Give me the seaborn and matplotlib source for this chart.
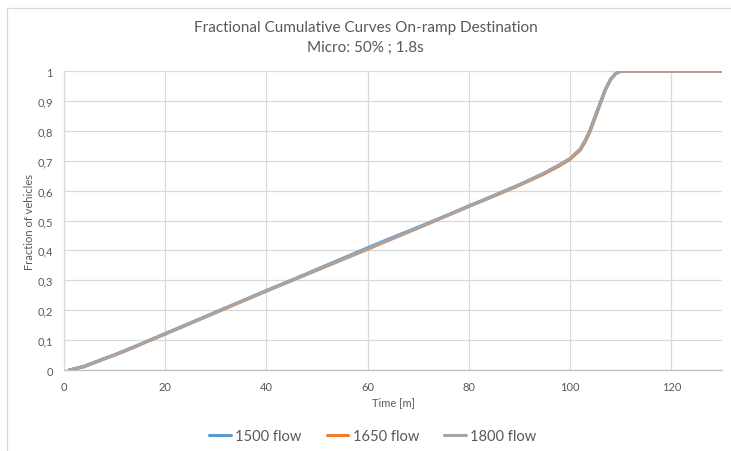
import matplotlib
matplotlib.use("Agg")
import matplotlib.pyplot as plt
from matplotlib.patches import Rectangle
from matplotlib.ticker import FuncFormatter, MultipleLocator
import seaborn as sns
import pandas as pd

# Elapsed time in minutes
time_min = [1, 2, 4, 6, 8, 10, 12, 14, 16, 18, 20, 25, 30, 35, 40, 45, 50, 55,
            60, 65, 70, 75, 80, 85, 90, 95, 98, 100, 102, 103, 104, 105, 106,
            107, 108, 109, 110, 111, 115, 120, 125, 130]

# Fraction of vehicles that reached the on-ramp destination
flow_1500 = [0.000, 0.004, 0.013, 0.026, 0.039, 0.051, 0.065, 0.079, 0.093, 0.108,
             0.122, 0.158, 0.194, 0.230, 0.266, 0.301, 0.337, 0.373, 0.409, 0.444,
             0.478, 0.513, 0.549, 0.584, 0.620, 0.659, 0.687, 0.706, 0.738, 0.768,
             0.806, 0.852, 0.897, 0.941, 0.973, 0.992, 0.999, 1.000, 1.000, 1.000,
             1.000, 1.000]
flow_1650 = [0.000, 0.003, 0.011, 0.024, 0.037, 0.050, 0.063, 0.077, 0.092, 0.106,
             0.120, 0.156, 0.192, 0.228, 0.264, 0.299, 0.334, 0.369, 0.404, 0.440,
             0.475, 0.511, 0.547, 0.582, 0.618, 0.657, 0.684, 0.705, 0.736, 0.764,
             0.800, 0.846, 0.892, 0.938, 0.971, 0.991, 0.999, 1.000, 1.000, 1.000,
             1.000, 1.000]
flow_1800 = [0.000, 0.004, 0.012, 0.025, 0.038, 0.050, 0.064, 0.078, 0.093, 0.107,
             0.121, 0.157, 0.193, 0.229, 0.265, 0.300, 0.335, 0.370, 0.406, 0.441,
             0.476, 0.512, 0.548, 0.583, 0.620, 0.660, 0.688, 0.708, 0.740, 0.770,
             0.805, 0.850, 0.895, 0.940, 0.972, 0.992, 0.999, 1.000, 1.000, 1.000,
             1.000, 1.000]

series_names = ["1500 flow", "1650 flow", "1800 flow"]
series_values = [flow_1500, flow_1650, flow_1800]
series_colors = ["#5B9BD5", "#ED7D31", "#A5A5A5"]

frames = [pd.DataFrame({"Time": time_min, "Fraction": vals, "Series": name})
          for name, vals in zip(series_names, series_values)]
data = pd.concat(frames, ignore_index=True)

sns.set_theme(style="white")
plt.rcParams["font.family"] = ["Lato", "DejaVu Sans"]

text_color = "#595959"
grid_color = "#D9D9D9"

fig = plt.figure(figsize=(7.31, 4.52), dpi=100)
ax = fig.add_axes([0.0876, 0.1792, 0.9001, 0.6615])

sns.lineplot(data=data, x="Time", y="Fraction", hue="Series",
             hue_order=series_names, palette=series_colors,
             linewidth=2.2, ax=ax, legend=True)

ax.set_xlim(0, 130)
ax.set_ylim(0, 1)
ax.xaxis.set_major_locator(MultipleLocator(20))
ax.yaxis.set_major_locator(MultipleLocator(0.1))
ax.yaxis.set_major_formatter(FuncFormatter(
    lambda v, _: "0" if abs(v) < 1e-9 else ("1" if abs(v - 1) < 1e-9 else f"{v:.1f}".replace(".", ","))))

ax.grid(True, color=grid_color, linewidth=0.9)
ax.set_axisbelow(True)
for side in ["top", "right"]:
    ax.spines[side].set_visible(False)
ax.spines["left"].set_color(grid_color)
ax.spines["left"].set_linewidth(0.9)
ax.spines["bottom"].set_color("#BFBFBF")
ax.spines["bottom"].set_linewidth(0.9)
ax.tick_params(axis="both", length=0, labelsize=8, labelcolor=text_color, pad=8)

ax.set_xlabel("Time [m]", fontsize=8, color=text_color, labelpad=3)
ax.set_ylabel("Fraction of vehicles", fontsize=8, color=text_color, labelpad=2)

fig.text(0.5, 0.937, "Fractional Cumulative Curves On-ramp Destination",
         ha="center", va="center", fontsize=11, color=text_color)
fig.text(0.5, 0.893, "Micro: 50% ; 1.8s",
         ha="center", va="center", fontsize=11, color=text_color)

handles, labels = ax.get_legend_handles_labels()
ax.legend_.remove()
fig.legend(handles, labels, loc="center", bbox_to_anchor=(0.51, 0.034),
           ncol=3, frameon=False, fontsize=10.5, labelcolor=text_color,
           handlelength=1.5, handletextpad=0.3, columnspacing=1.7)

# Outer chart-area border
fig.patches.append(Rectangle((7 / 731, -0.05), 1.0, 1 - 9 / 452 + 0.05,
                             transform=fig.transFigure, fill=False,
                             edgecolor=grid_color, linewidth=0.9))

fig.savefig("out.png", dpi=100)
